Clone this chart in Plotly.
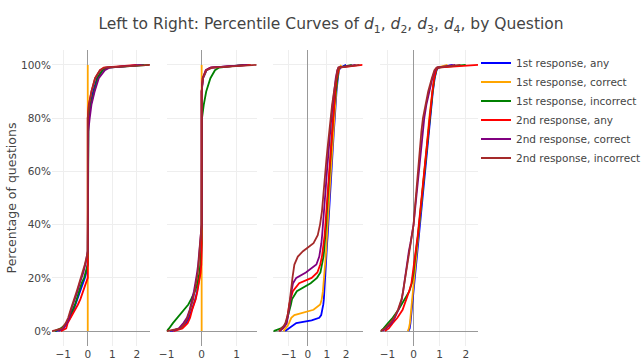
import plotly.graph_objects as go

# ---------------- data ----------------
SERIES = ["1st response, any", "1st response, correct", "1st response, incorrect",
          "2nd response, any", "2nd response, correct", "2nd response, incorrect"]
COLORS = ["blue", "orange", "green", "red", "purple", "brown"]

# percentile levels (y values) per panel
P12 = [0, 1, 3, 5, 8, 10, 12, 15, 18, 20, 22, 25, 28, 30, 33, 36, 40, 50, 60, 70,
       75, 80, 85, 90, 95, 98, 99, 100]
P3 = [0, 1, 2, 3, 4, 5, 6, 8, 10, 12, 15, 18, 20, 22, 25, 28, 30, 33, 36, 40, 45, 50,
      55, 60, 65, 70, 75, 80, 85, 90, 95, 98, 99, 100]
P4 = [0, 1, 3, 5, 8, 10, 12, 15, 18, 20, 22, 25, 28, 30, 33, 36, 40, 45, 50, 55, 60,
      65, 70, 75, 80, 85, 90, 95, 98, 99, 100]

# d1 values at P12
D1_ANY1 = [-1.3, -1.0, -0.85, -0.72, -0.58, -0.5, -0.42, -0.3, -0.2, -0.12, -0.06, 0, 0, 0,
           0, 0, 0, 0, 0, 0, 0, 0.02, 0.1, 0.22, 0.38, 0.6, 0.75, 2.3]
D1_COR1 = [0, 0, 0, 0, 0, 0, 0, 0, 0, 0, 0, 0, 0, 0, 0, 0, 0, 0, 0, 0, 0, 0, 0, 0, 0, 0, 0, 0]
D1_INC1 = [-1.35, -1.1, -0.85, -0.75, -0.62, -0.52, -0.45, -0.35, -0.25, -0.15, -0.08, 0, 0,
           0, 0, 0, 0, 0, 0, 0, 0, 0.03, 0.12, 0.25, 0.4, 0.6, 0.8, 2.5]
D1_ANY2 = [-1.1, -0.88, -0.82, -0.7, -0.5, -0.4, -0.3, -0.18, -0.06, 0, 0, 0, 0, 0, 0, 0, 0,
           0, 0, 0, 0, 0, 0.04, 0.15, 0.3, 0.5, 0.65, 2.0]
D1_COR2 = [-1.2, -1.0, -0.85, -0.75, -0.68, -0.6, -0.52, -0.42, -0.33, -0.25, -0.18, -0.1,
           -0.03, 0, 0, 0, 0, 0, 0, 0, 0.02, 0.08, 0.15, 0.28, 0.45, 0.7, 0.9, 2.2]
D1_INC2 = [-1.46, -1.05, -0.9, -0.8, -0.7, -0.62, -0.55, -0.45, -0.35, -0.28, -0.2, -0.12,
           -0.04, 0, 0, 0, 0, 0, 0, 0, 0, 0, 0.05, 0.15, 0.3, 0.5, 0.7, 2.54]

# d2 values at P12
D2_ANY1 = [-0.9, -0.6, -0.45, -0.36, -0.28, -0.23, -0.18, -0.13, -0.09, -0.06, -0.04, -0.02,
           0, 0, 0, 0, 0, 0, 0, 0, 0, 0, 0, 0, 0.04, 0.14, 0.28, 1.35]
D2_COR1 = [0, 0, 0, 0, 0, 0, 0, 0, 0, 0, 0, 0, 0, 0, 0, 0, 0, 0, 0, 0, 0, 0, 0, 0, 0, 0, 0, 0]
D2_INC1 = [-1.0, -0.93, -0.82, -0.7, -0.5, -0.38, -0.3, -0.19, -0.12, -0.08, -0.06, -0.04,
           -0.02, -0.01, 0, 0, 0, 0, 0, 0, 0, 0.01, 0.06, 0.13, 0.25, 0.38, 0.5, 1.2]
D2_ANY2 = [-0.8, -0.55, -0.4, -0.33, -0.27, -0.22, -0.17, -0.12, -0.08, -0.05, -0.03, -0.01,
           0, 0, 0, 0, 0, 0, 0, 0, 0, 0, 0, 0, 0.03, 0.12, 0.25, 1.4]
D2_COR2 = [-0.85, -0.65, -0.52, -0.42, -0.34, -0.3, -0.26, -0.22, -0.18, -0.15, -0.13, -0.1,
           -0.08, -0.06, -0.04, -0.02, 0, 0, 0, 0, 0, 0, 0, 0, 0.03, 0.12, 0.25, 1.3]
D2_INC2 = [-1.0, -0.6, -0.48, -0.4, -0.33, -0.28, -0.24, -0.2, -0.16, -0.13, -0.11, -0.09,
           -0.07, -0.05, -0.03, -0.01, 0, 0, 0, 0, 0, 0, 0, 0, 0.04, 0.14, 0.3, 1.57]

# d3 values at P3
D3_ANY1 = [-1.18, -1.0, -0.8, -0.6, 0.2, 0.6, 0.7, 0.77, 0.81, 0.84, 0.86, 0.88, 0.89, 0.9,
           0.93, 0.96, 0.98, 1.01, 1.04, 1.07, 1.1, 1.14, 1.18, 1.22, 1.26, 1.31, 1.36, 1.41,
           1.45, 1.5, 1.57, 1.63, 1.7, 2.0]
D3_COR1 = [-1.27, -1.15, -1.05, -0.98, -0.93, -0.86, -0.7, 0.3, 0.65, 0.73, 0.79, 0.83,
           0.86, 0.88, 0.91, 0.94, 0.96, 0.98, 1.01, 1.04, 1.08, 1.12, 1.16, 1.2, 1.24, 1.29,
           1.34, 1.39, 1.43, 1.48, 1.54, 1.6, 1.65, 1.75]
D3_INC1 = [-1.79, -1.4, -1.22, -1.15, -1.1, -1.06, -1.02, -0.95, -0.88, -0.82, -0.57, 0.15,
           0.48, 0.66, 0.75, 0.82, 0.85, 0.89, 0.92, 0.96, 1.0, 1.04, 1.08, 1.12, 1.17, 1.22,
           1.27, 1.32, 1.38, 1.45, 1.53, 1.6, 1.65, 2.3]
D3_ANY2 = [-1.5, -1.3, -1.2, -1.12, -1.09, -1.07, -1.05, -1.02, -0.97, -0.9, -0.78, -0.45,
           0.2, 0.5, 0.65, 0.74, 0.78, 0.83, 0.88, 0.92, 0.97, 1.02, 1.06, 1.1, 1.15, 1.2,
           1.25, 1.3, 1.36, 1.43, 1.51, 1.58, 1.63, 2.86]
D3_COR2 = [-1.45, -1.3, -1.18, -1.1, -1.07, -1.04, -1.02, -0.98, -0.94, -0.91, -0.85, -0.77,
           -0.6, -0.1, 0.45, 0.6, 0.65, 0.71, 0.75, 0.8, 0.85, 0.9, 0.95, 1.0, 1.05, 1.11,
           1.17, 1.23, 1.3, 1.37, 1.46, 1.54, 1.6, 2.5]
D3_INC2 = [-1.5, -1.35, -1.25, -1.17, -1.12, -1.08, -1.05, -1.0, -0.96, -0.92, -0.87, -0.83,
           -0.8, -0.77, -0.7, -0.52, -0.25, 0.3, 0.52, 0.64, 0.74, 0.8, 0.85, 0.91, 0.98,
           1.05, 1.12, 1.19, 1.27, 1.37, 1.47, 1.55, 1.6, 2.7]

# d4 values at P4
D4_ANY1 = [-0.2, -0.15, -0.12, -0.1, -0.07, -0.05, -0.03, 0.0, 0.03, 0.05, 0.07, 0.1, 0.13,
           0.15, 0.18, 0.21, 0.25, 0.3, 0.34, 0.38, 0.43, 0.48, 0.53, 0.57, 0.62, 0.68, 0.74,
           0.81, 0.88, 0.95, 1.5]
D4_COR1 = [-0.22, -0.18, -0.14, -0.12, -0.09, -0.07, -0.05, -0.02, 0.01, 0.03, 0.05, 0.08,
           0.11, 0.13, 0.16, 0.19, 0.23, 0.28, 0.32, 0.36, 0.41, 0.46, 0.51, 0.55, 0.6, 0.66,
           0.72, 0.79, 0.86, 0.92, 1.3]
D4_INC1 = [-1.26, -1.15, -0.98, -0.8, -0.58, -0.46, -0.33, -0.16, -0.07, -0.03, 0.0, 0.03,
           0.06, 0.09, 0.13, 0.17, 0.21, 0.27, 0.31, 0.36, 0.41, 0.46, 0.51, 0.56, 0.61, 0.67,
           0.73, 0.8, 0.87, 0.93, 2.0]
D4_ANY2 = [-1.1, -0.95, -0.8, -0.62, -0.42, -0.34, -0.26, -0.17, -0.08, -0.05, -0.02, 0.02,
           0.05, 0.08, 0.12, 0.16, 0.2, 0.26, 0.3, 0.35, 0.4, 0.45, 0.5, 0.55, 0.6, 0.66, 0.72,
           0.79, 0.86, 0.92, 2.47]
D4_COR2 = [-1.2, -1.05, -0.85, -0.72, -0.58, -0.5, -0.45, -0.4, -0.36, -0.33, -0.3, -0.26,
           -0.21, -0.18, -0.12, -0.07, 0.0, 0.05, 0.1, 0.15, 0.19, 0.24, 0.29, 0.35, 0.41,
           0.49, 0.6, 0.72, 0.82, 0.9, 1.6]
D4_INC2 = [-1.27, -1.1, -0.9, -0.75, -0.6, -0.52, -0.46, -0.4, -0.35, -0.31, -0.28, -0.24,
           -0.2, -0.16, -0.11, -0.06, 0.0, 0.04, 0.08, 0.12, 0.16, 0.2, 0.25, 0.3, 0.36, 0.45,
           0.56, 0.7, 0.8, 0.88, 1.8]

PANELS = [
    (P12, [D1_ANY1, D1_COR1, D1_INC1, D1_ANY2, D1_COR2, D1_INC2]),
    (P12, [D2_ANY1, D2_COR1, D2_INC1, D2_ANY2, D2_COR2, D2_INC2]),
    (P3, [D3_ANY1, D3_COR1, D3_INC1, D3_ANY2, D3_COR2, D3_INC2]),
    (P4, [D4_ANY1, D4_COR1, D4_INC1, D4_ANY2, D4_COR2, D4_INC2]),
]
X_RANGES = [[-1.46, 2.54], [-1.0, 1.57], [-1.8, 2.86], [-1.27, 2.47]]
Y_TICKS = [0, 20, 40, 60, 80, 100]
Y_TICKTEXT = ["0%", "20%", "40%", "60%", "80%", "100%"]

# ---------------- figure ----------------
FONT = "DejaVu Sans"
fig = go.Figure()
for i, (pct, series) in enumerate(PANELS):
    ax = "" if i == 0 else str(i + 1)
    for j, xs in enumerate(series):
        fig.add_trace(go.Scatter(
            x=xs, y=pct, mode="lines", name=SERIES[j],
            line=dict(color=COLORS[j], width=1.8),
            legendgroup=SERIES[j], showlegend=(i == 0),
            xaxis="x" + ax, yaxis="y" + ax))

domains = [[0.0, 0.230], [0.269, 0.4805], [0.5195, 0.729], [0.771, 1.0]]
layout = dict(
    width=643, height=358,
    margin=dict(l=52, r=165, t=50, b=12, autoexpand=False),
    paper_bgcolor="white", plot_bgcolor="white",
    font=dict(family=FONT, size=10, color="#444"),
    title=dict(text="Left to Right: Percentile Curves of <i>d</i><sub>1</sub>, "
                    "<i>d</i><sub>2</sub>, <i>d</i><sub>3</sub>, <i>d</i><sub>4</sub>, by Question",
               x=331 / 643, xref="container", xanchor="center", y=1 - 24 / 358, yanchor="middle",
               font=dict(family=FONT, size=15.5, color="#444")),
    legend=dict(x=(476 - 52) / 426, y=1.005, xanchor="left", yanchor="top",
                tracegroupgap=0,
                font=dict(family=FONT, size=10.5, color="#444"),
                bgcolor="rgba(0,0,0,0)"),
    showlegend=True,
)
for i in range(4):
    ax = "" if i == 0 else str(i + 1)
    layout["xaxis" + ax] = dict(
        domain=domains[i], range=X_RANGES[i], anchor="y" + ax,
        dtick=1, tick0=0, showgrid=True, gridcolor="#eeeeee", gridwidth=1,
        zeroline=True, zerolinecolor="#999999", zerolinewidth=1.2,
        showline=False, ticks="", tickfont=dict(size=10.5))
    yax = dict(
        domain=[0, 1], range=[-5.6, 105.6], anchor="x" + ax,
        tickmode="array", tickvals=Y_TICKS, ticktext=Y_TICKTEXT,
        showticklabels=(i == 0),
        showgrid=True, gridcolor="#eeeeee", gridwidth=1,
        zeroline=True, zerolinecolor="#999999", zerolinewidth=1.2,
        showline=False, ticks="", tickfont=dict(size=10.5))
    if i == 0:
        yax["title"] = dict(text="Percentage of questions", font=dict(size=12.5), standoff=1)
    layout["yaxis" + ax] = yax
fig.update_layout(**layout)
fig.write_html("out.html")
